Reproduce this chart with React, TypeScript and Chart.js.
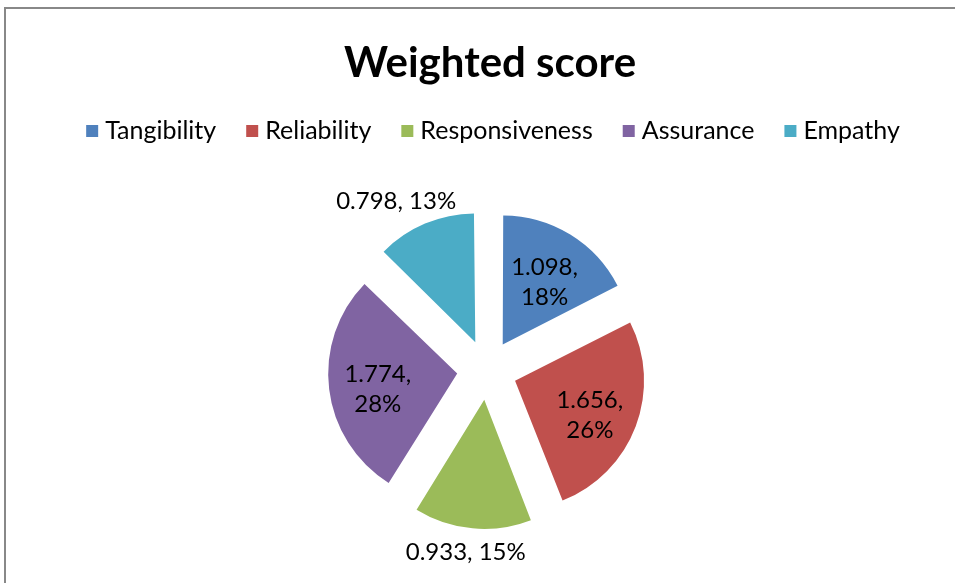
import React, { useEffect, useRef } from 'react';
import { Chart, registerables } from 'chart.js';

Chart.register(...registerables);

// ---- data ----
const TITLE = 'Weighted score';
const categories = ['Tangibility', 'Reliability', 'Responsiveness', 'Assurance', 'Empathy'];
const scores = [1.098, 1.656, 0.933, 1.774, 0.798];
const colors = ['#4F81BD', '#C0504D', '#9BBB59', '#8064A2', '#4BACC6'];

// ---- style ----
const FONT = 'Lato, "Open Sans", sans-serif';
const RADIUS = 129;
const EXPLODE = 30;
const W = 955;
const H = 583;

const explodeFix = {
  id: 'explodeFix',
  afterDatasetUpdate(chart: any, args: any) {
    const meta = chart.getDatasetMeta(args.index);
    meta.data.forEach((arc: any) => {
      const fix = 1 - Math.sin(Math.min(Math.PI, arc.circumference || 0));
      arc.outerRadius = RADIUS - EXPLODE * fix;
    });
  },
};

const headerPlugin = {
  id: 'header',
  afterDraw(chart: any) {
    const ctx = chart.ctx;
    ctx.save();
    // title
    ctx.fillStyle = '#000';
    ctx.font = `bold 42px ${FONT}`;
    ctx.textAlign = 'center';
    ctx.textBaseline = 'alphabetic';
    ctx.fillText(TITLE, 490, 77);

    // legend
    ctx.font = `25px ${FONT}`;
    const box = 12;
    const gapText = 7;
    const gapItem = 30;
    const widths = categories.map((c) => ctx.measureText(c).width);
    const total = widths.reduce((a, w) => a + box + gapText + w, 0) + gapItem * (categories.length - 1);
    let x = 493 - total / 2;
    ctx.textAlign = 'left';
    ctx.textBaseline = 'alphabetic';
    categories.forEach((c, i) => {
      ctx.fillStyle = colors[i];
      ctx.fillRect(x, 125, box, box);
      ctx.fillStyle = '#000';
      ctx.fillText(c, x + box + gapText, 139);
      x += box + gapText + widths[i] + gapItem;
    });
    ctx.restore();
  },
};

const labelPlugin = {
  id: 'sliceLabels',
  afterDatasetsDraw(chart: any) {
    const ctx = chart.ctx;
    const meta = chart.getDatasetMeta(0);
    const total = scores.reduce((a, b) => a + b, 0);
    ctx.save();
    ctx.fillStyle = '#000';
    ctx.font = `24px ${FONT}`;
    ctx.textAlign = 'center';
    ctx.textBaseline = 'middle';
    meta.data.forEach((arc: any, i: number) => {
      const { x, y, startAngle, endAngle } = arc.getProps(['x', 'y', 'startAngle', 'endAngle'], true);
      const mid = (startAngle + endAngle) / 2;
      const c = Math.cos(mid);
      const s = Math.sin(mid);
      const pct = Math.round((scores[i] / total) * 100);
      const val = scores[i].toFixed(3);
      if (pct >= 16) {
        const d = EXPLODE + RADIUS * 0.62;
        const cx = x + c * d;
        const cy = y + s * d + 6;
        ctx.fillText(`${val},`, cx, cy - 15);
        ctx.fillText(`${pct}%`, cx, cy + 15);
      } else {
        const text = `${val}, ${pct}%`;
        const w = ctx.measureText(text).width;
        const h = 20;
        const d = EXPLODE + RADIUS + 14;
        const cx = x + c * d + (c * w) / 2;
        const cy = y + s * d + (s * h) / 2;
        ctx.fillText(text, cx, cy);
      }
    });
    ctx.restore();
  },
};

export default function App() {
  const ref = useRef<HTMLCanvasElement | null>(null);

  useEffect(() => {
    if (!ref.current) return;
    const chart = new Chart(ref.current, {
      type: 'pie',
      data: {
        labels: categories,
        datasets: [
          {
            data: scores,
            backgroundColor: colors,
            borderWidth: 0,
            offset: EXPLODE * 4,
            hoverOffset: 0,
          },
        ],
      },
      options: {
        responsive: false,
        animation: false,
        radius: RADIUS,
        layout: { padding: { left: 19, right: 0, top: 157, bottom: 0 } },
        plugins: {
          legend: { display: false },
          title: { display: false },
          tooltip: { enabled: false },
        },
        events: [],
      } as any,
      plugins: [explodeFix, labelPlugin, headerPlugin],
    });
    return () => chart.destroy();
  }, []);

  return (
    <div style={{ position: 'absolute', left: 0, top: 0, width: W, height: H, overflow: 'hidden', background: '#fff' }}>
      <canvas ref={ref} width={W} height={H} style={{ display: 'block', width: W, height: H }} />
      <div
        style={{
          position: 'absolute',
          left: 4,
          top: 7,
          width: 2000,
          height: 2000,
          borderTop: '2px solid #888',
          borderLeft: '2px solid #888',
          pointerEvents: 'none',
        }}
      />
    </div>
  );
}
